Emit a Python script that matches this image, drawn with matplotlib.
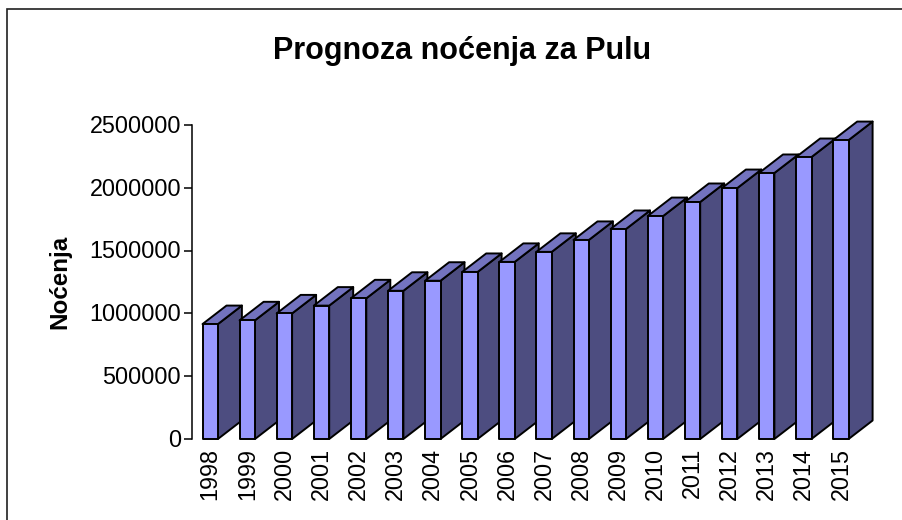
import matplotlib
matplotlib.use("Agg")
import matplotlib.pyplot as plt
from matplotlib.patches import Polygon, Rectangle
from matplotlib.transforms import ScaledTranslation

years = ['1998', '1999', '2000', '2001', '2002', '2003', '2004', '2005', '2006',
         '2007', '2008', '2009', '2010', '2011', '2012', '2013', '2014', '2015']
nocenja = [915000, 945000, 1000000, 1062000, 1120000, 1180000, 1260000, 1330000, 1410000,
           1490000, 1585000, 1672000, 1775000, 1887000, 1998000, 2118000, 2245000, 2380000]
y_ticks = [0, 500000, 1000000, 1500000, 2000000, 2500000]

W, H = 903, 520
STEP = 37.1
FRONT = '#9999ff'
SIDE = '#4d4d80'
TOP = '#7373bf'

plt.rcParams['font.family'] = ['Liberation Sans', 'DejaVu Sans']

fig = plt.figure(figsize=(W / 100, H / 100), dpi=100)
ax = fig.add_axes([191.65 / W, 1 - 439 / H, 18 * STEP / W, 314 / H])
ax.set_xlim(-0.5, 17.5)
ax.set_ylim(0, 2500000)

# 3d look: depth offset and bar width in data units
bar_w = 15.4 / STEP
dx = 24 / STEP
dy = 18.5 / 314 * 2500000

for i, v in enumerate(nocenja):
    l = i - bar_w / 2
    r = i + bar_w / 2
    side = [(r, 0), (r + dx, dy), (r + dx, v + dy), (r, v)]
    top = [(l, v), (r, v), (r + dx, v + dy), (l + dx, v + dy)]
    front = [(l, 0), (r, 0), (r, v), (l, v)]
    for pts, col in ((side, SIDE), (top, TOP), (front, FRONT)):
        ax.add_patch(Polygon(pts, closed=True, facecolor=col, edgecolor='black', linewidth=1.4,
                             joinstyle='round', clip_on=False, zorder=3))

for s in ('top', 'right', 'bottom'):
    ax.spines[s].set_visible(False)
ax.spines['left'].set_linewidth(1.1)

ax.set_yticks(y_ticks)
ax.set_yticklabels([str(t) for t in y_ticks], fontsize=16.8, va='center_baseline')
ax.tick_params(axis='y', length=5.5, width=1.1, pad=2)
for lab in ax.get_yticklabels():
    lab.set_transform(lab.get_transform() + ScaledTranslation(0, 1.2 / 100, fig.dpi_scale_trans))

# year labels sit a bit left of the bar centre
ax.set_xticks([])
for i, year in enumerate(years):
    ax.annotate(year, (i, 0), xytext=(0, -9), textcoords='offset pixels', rotation=90,
                fontsize=16.8, ha='center', va='top')

fig.text(462.5 / W, 1 - 51.5 / H, 'Prognoza noćenja za Pulu', fontsize=22, fontweight='bold',
         ha='center', va='center')
fig.text(60 / W, 1 - 282 / H, 'Noćenja', fontsize=17.4, fontweight='bold', rotation=90,
         ha='center', va='center')

# chart area border
fig.add_artist(Rectangle((7 / W, -0.1), 1.2, 1 - 9 / H + 0.1, transform=fig.transFigure,
                         facecolor='none', edgecolor='#202020', linewidth=1.2))

fig.savefig('out.png', dpi=100)
